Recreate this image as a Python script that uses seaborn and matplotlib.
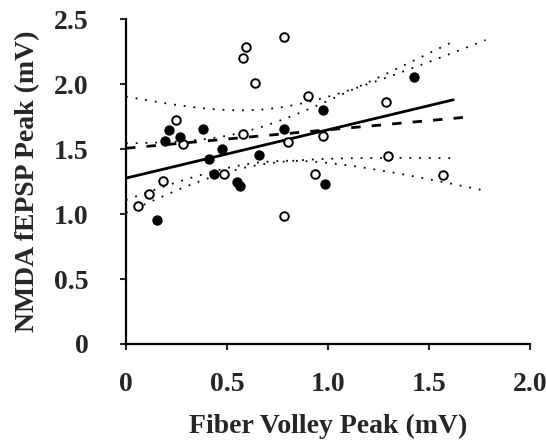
import numpy as np
import pandas as pd
import seaborn as sns
import matplotlib.pyplot as plt

# data (mV)
filled_x = [0.155, 0.193, 0.214, 0.269, 0.383, 0.409, 0.475, 0.434, 0.551, 0.566,
            0.660, 0.782, 0.975, 0.987, 1.427]
filled_y = [0.952, 1.564, 1.646, 1.595, 1.654, 1.423, 1.502, 1.310, 1.244, 1.215,
            1.456, 1.656, 1.802, 1.231, 2.052]
open_x = [0.061, 0.112, 0.185, 0.248, 0.281, 0.485, 0.581, 0.578, 0.594, 0.637,
          0.784, 0.803, 0.782, 0.900, 0.974, 0.934, 1.286, 1.297, 1.571]
open_y = [1.064, 1.152, 1.254, 1.725, 1.538, 1.305, 1.613, 2.202, 2.287, 2.010,
          2.364, 1.556, 0.987, 1.905, 1.600, 1.310, 1.862, 1.444, 1.300]

x_ticks = [0, 0.5, 1.0, 1.5, 2.0]
x_labels = ["0", "0.5", "1.0", "1.5", "2.0"]
y_ticks = [0, 0.5, 1.0, 1.5, 2.0, 2.5]
y_labels = ["0", "0.5", "1.0", "1.5", "2.0", "2.5"]

sns.set_style("white")
plt.rcParams['font.family'] = ['Liberation Serif', 'DejaVu Serif']
plt.rcParams['font.weight'] = 'bold'

fig = plt.figure(figsize=(5.46, 4.45), dpi=100)
ax = fig.add_axes([0.2308, 0.227, 0.7399, 0.730])


def fit_with_band(x, y, x_end, band_end, t):
    x = np.asarray(x)
    y = np.asarray(y)
    slope, icpt = np.polyfit(x, y, 1)
    n = len(x)
    resid = y - (icpt + slope * x)
    s = np.sqrt(np.sum(resid ** 2) / (n - 2))
    sxx = np.sum((x - x.mean()) ** 2)
    xl = np.linspace(0, x_end, 50)
    xb = np.linspace(0, band_end, 80)
    yb = icpt + slope * xb
    hw = t * s * np.sqrt(1 / n + (xb - x.mean()) ** 2 / sxx)
    return xl, icpt + slope * xl, xb, yb - hw, yb + hw


dot = (0, (1.0, 4.4))

# filled group -> solid line, open group -> dashed line
xl, yl, xb, lo, hi = fit_with_band(filled_x, filled_y, 1.62, 1.62, 2.160)
ax.plot(xl, yl, color="black", lw=2.0, zorder=2)
ax.plot(xb, lo, color="black", lw=1.3, ls=dot, zorder=2)
ax.plot(xb, hi, color="black", lw=1.3, ls=dot, zorder=2)

xl, yl, xb, lo, hi = fit_with_band(open_x, open_y, 1.67, 1.78, 2.110)
ax.plot(xl, yl, color="black", lw=2.0, ls=(0, (3.4, 4.0)), zorder=2)
ax.plot(xb, lo, color="black", lw=1.3, ls=dot, zorder=2)
ax.plot(xb, hi, color="black", lw=1.3, ls=dot, zorder=2)

df_f = pd.DataFrame({"x": filled_x, "y": filled_y})
df_o = pd.DataFrame({"x": open_x, "y": open_y})
sns.scatterplot(data=df_o, x="x", y="y", ax=ax, s=38, color="white",
                edgecolor="black", linewidth=1.4, zorder=3, clip_on=False)
sns.scatterplot(data=df_f, x="x", y="y", ax=ax, s=44, color="black",
                edgecolor="black", linewidth=0.8, zorder=4, clip_on=False)

ax.set_xlim(0, 2.0)
ax.set_ylim(0, 2.5)
ax.set_xticks(x_ticks)
ax.set_xticklabels(x_labels)
ax.set_yticks(y_ticks)
ax.set_yticklabels(y_labels)
ax.tick_params(axis="x", direction="out", length=4, width=1.5, pad=16,
               labelsize=20, bottom=True)
ax.tick_params(axis="y", direction="out", length=4, width=1.5, pad=23,
               labelsize=20, left=True)

for side in ["top", "right"]:
    ax.spines[side].set_visible(False)
for side in ["left", "bottom"]:
    ax.spines[side].set_linewidth(1.6)
    ax.spines[side].set_color("black")

ax.set_xlabel("Fiber Volley Peak (mV)", fontsize=20, fontweight="bold", labelpad=12)
ax.set_ylabel("NMDA fEPSP Peak (mV)", fontsize=20, fontweight="bold", labelpad=10)

fig.savefig("out.png", dpi=100)
